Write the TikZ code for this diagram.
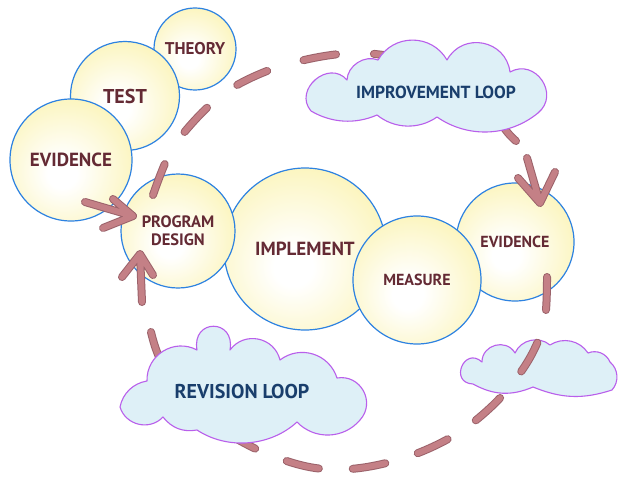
\documentclass[tikz,border=0pt]{standalone}
\usepackage{fontspec}
\setmainfont{PT Sans}
\usetikzlibrary{calc}
\definecolor{bubbleYellow}{RGB}{249,238,145}
\definecolor{bubbleBlue}{RGB}{45,130,225}
\definecolor{textMaroon}{RGB}{100,42,52}
\definecolor{cloudFill}{RGB}{222,240,247}
\definecolor{cloudViolet}{RGB}{185,95,235}
\definecolor{cloudText}{RGB}{25,62,108}
\definecolor{trailFill}{RGB}{196,128,134}
\definecolor{trailEdge}{RGB}{155,98,106}
\pgfdeclareradialshading{bubble}{\pgfpoint{-4bp}{-6bp}}{color(0bp)=(white); color(6bp)=(white); color(26bp)=(bubbleYellow!50!white); color(43bp)=(bubbleYellow); color(70bp)=(bubbleYellow)}

\begin{document}
\begin{tikzpicture}[
  x=1pt, y=-1pt,
  bubble/.style={
    circle,
    draw=bubbleBlue,
    line width=1.2pt,
    shading=bubble,
    inner sep=0pt,
    text=textMaroon,
    align=center
  },
  sz/.style={font=\bfseries\fontsize{#1}{18}\selectfont},
  cloudline/.style={draw=cloudViolet, fill=cloudFill, line width=1.1pt, line join=round},
  cloudtext/.style={text=cloudText, font=\bfseries\fontsize{#1}{20}\selectfont},
  trail/.style={
    draw=trailEdge,
    double=trailFill,
    line width=1pt,
    double distance=6pt,
    line cap=round,
    line join=round
  },
  dashtrail/.style={trail, dash pattern=on 33pt off #1},
  puff/.style 2 args={bend left=#1, looseness=#2}
]
\path[fill=white, use as bounding box] (0,0) rectangle (628,484);

% bubbles
\node[bubble, minimum size=82pt, sz=17] (theory) at (195,49) {THEORY};
\node[bubble, minimum size=109pt, sz=20] (test) at (125,96) {TEST};
\node[bubble, minimum size=122pt, sz=19] (evidL) at (71,160) {EVIDENCE};
\node[bubble, minimum size=162pt, sz=19] (implement) at (305,249) {IMPLEMENT};
\node[bubble, minimum size=114pt, sz=16.5] (design) at (178,231) {PROGRAM\\DESIGN};
\node[bubble, minimum size=118pt, sz=16] (evidR) at (515,242) {EVIDENCE};
\node[bubble, minimum size=128pt, sz=16] (measure) at (417,280) {MEASURE};

% small cloud
\draw[cloudline] (473,384) to[puff={110}{2.6}] (482,362) to[puff={75}{1.3}] (515,353)
  to[puff={53}{1.05}] (550,345) to[puff={45}{1}] (588,353) to[puff={45}{1}] (610,362)
  to[puff={46}{1}] (612,390) to[puff={20}{1}] (533,387) to[puff={26}{1}] (473,384) -- cycle;

% improvement loop
\coordinate (impStart) at ($(design.center)+(-25,-36)$);
\coordinate (impTip) at ($(evidR.center)+(25,-39)$);
\draw[dashtrail=38pt] plot[smooth, tension=0.6] coordinates {(impStart) (170,153) (195,120)
  (226,92) (262,73) (300,61) (340,54) (375,54) (415,62) (455,82) (488,108) (508,133) (516,141)};
\draw[trail] ($(impTip)+(-13,-45)$) -- (impTip) ($(impTip)+(-22,-25)$) -- (impTip)
  -- ($(impTip)+(15,-31)$);

% revision loop
\coordinate (revStart) at ($(evidR.center)+(32,35)$);
\coordinate (revTip) at ($(design.center)+(-38,23)$);
\draw[dashtrail=34pt] plot[smooth, tension=0.6] coordinates {(revStart) (545,318) (534,350)
  (515,380) (490,408) (455,435) (410,456) (360,468) (315,468) (270,455) (230,435)
  (195,410) (172,385) (157,352) (151,332)};
\draw[trail] ($(revTip)+(2,48)$) -- (revTip) ($(revTip)+(-18,23)$) -- (revTip)
  -- ($(revTip)+(13,21)$);

% evidence into design
\coordinate (evTip) at ($(design.center)+(-45,-15)$);
\draw[trail] ($(evidL.center)+(14,42)$) -- (evTip) ($(evTip)+(-20,-17)$) -- (evTip)
  -- ($(evTip)+(-30,12)$);

% clouds
\draw[cloudline] (311,111) to[puff={90}{1.5}] (347,80) to[puff={55}{1}] (378,60)
  to[puff={60}{1.14}] (447,60) to[puff={72}{1.3}] (510,72) to[puff={85}{1.5}] (538,113)
  to[puff={37}{0.95}] (437,117) to[puff={37}{0.95}] (377,115) to[puff={27}{0.92}] (311,111) -- cycle;
\node[cloudtext=17.5] (impLabel) at (436,92) {IMPROVEMENT LOOP};

\draw[cloudline] (120,407) to[puff={35}{0.95}] (147,381) to[puff={60}{1.13}] (197,350)
  to[puff={100}{2.5}] (230,350) to[puff={65}{1.2}] (280,360) to[puff={55}{1.09}] (337,378)
  to[puff={71}{1.28}] (360,420) to[puff={48}{1.02}] (297,422) to[puff={38}{0.93}] (197,430)
  to[puff={31}{1}] (163,417) to[puff={60}{1.12}] (120,407) -- cycle;
\node[cloudtext=20] (revLabel) at (242,391) {REVISION LOOP};

\end{tikzpicture}
\end{document}
